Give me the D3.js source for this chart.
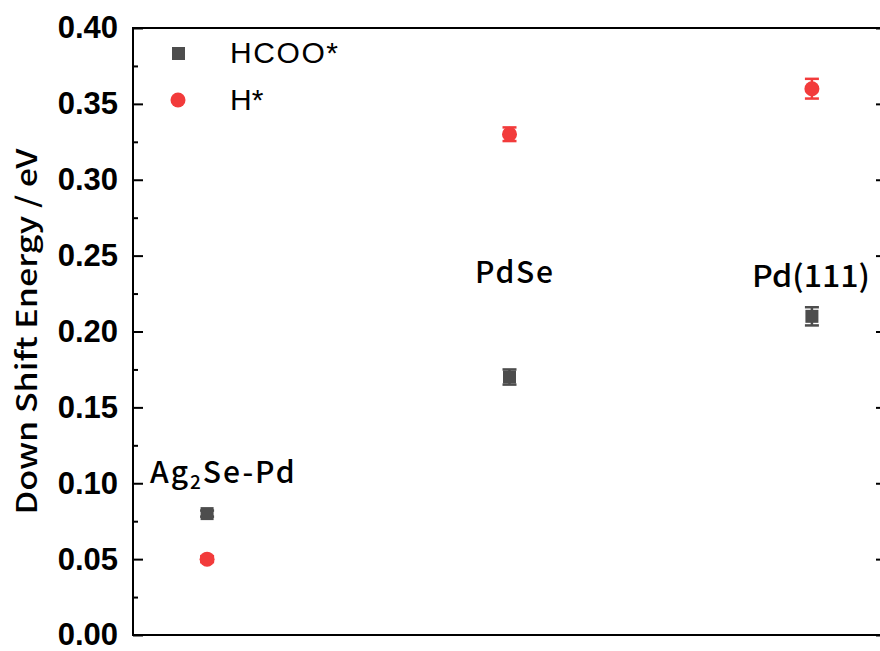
<!DOCTYPE html>
<html><head><meta charset="utf-8">
<script src="https://cdn.jsdelivr.net/npm/d3@7"></script>
<style>body{margin:0;background:#fff}</style>
</head><body>
<svg id="c" width="880" height="651"></svg>
<script>
const categories = ["Ag₂Se-Pd", "PdSe", "Pd(111)"];
const catX = [1, 2, 3];
const hcooValues = [0.08, 0.17, 0.21];
const hcooErrors = [0.002, 0.005, 0.006];
const hValues = [0.05, 0.33, 0.36];
const hErrors = [0.002, 0.0045, 0.0065];
const yTicks = [0, 0.05, 0.10, 0.15, 0.20, 0.25, 0.30, 0.35, 0.40];

const svg = d3.select("#c");
const L = 133, R = 886, T = 28, B = 635;
const x = d3.scaleLinear().domain([0.755, 3.245]).range([L, R]);
const y = d3.scaleLinear().domain([0, 0.40]).range([B, T]);
const cjk = "'Noto Sans CJK JP', 'Noto Sans', sans-serif";

svg.append("rect").attr("x", L).attr("y", T).attr("width", R - L).attr("height", B - T)
  .attr("fill", "none").attr("stroke", "#000").attr("stroke-width", 2);

const minor = d3.range(0.025, 0.40, 0.05);
const fmt = d3.format(".2f");
const gL = svg.append("g").attr("transform", `translate(${L},0)`)
  .call(d3.axisLeft(y).tickValues(yTicks).tickSize(-10).tickPadding(15).tickFormat(fmt));
gL.select(".domain").remove();
gL.selectAll(".tick line").attr("stroke-width", 2);
gL.selectAll(".tick text").attr("font-family", "'Liberation Sans', Arial, sans-serif")
  .attr("font-weight", "bold").attr("font-size", 31).attr("fill", "#000");
const gLm = svg.append("g").attr("transform", `translate(${L},0)`)
  .call(d3.axisLeft(y).tickValues(minor).tickSize(-5).tickFormat(""));
gLm.select(".domain").remove();
gLm.selectAll(".tick line").attr("stroke-width", 2);

const gR = svg.append("g").attr("transform", `translate(${R},0)`)
  .call(d3.axisRight(y).tickValues(yTicks).tickSize(-10).tickFormat(""));
gR.select(".domain").remove();
gR.selectAll(".tick line").attr("stroke-width", 2);
const gRm = svg.append("g").attr("transform", `translate(${R},0)`)
  .call(d3.axisRight(y).tickValues(minor).tickSize(-5).tickFormat(""));
gRm.select(".domain").remove();
gRm.selectAll(".tick line").attr("stroke-width", 2);

svg.append("text").attr("transform", `translate(37,${(T + B) / 2}) rotate(-90)`)
  .attr("text-anchor", "middle").attr("font-family", cjk)
  .attr("font-weight", 500).attr("font-size", 28)
  .attr("textLength", 366).attr("lengthAdjust", "spacingAndGlyphs")
  .text("Down Shift Energy / eV");

function errBars(vals, errs, color) {
  const g = svg.append("g").attr("stroke", color).attr("stroke-width", 2.5);
  vals.forEach((v, i) => {
    const cx = x(catX[i]);
    g.append("line").attr("x1", cx).attr("x2", cx).attr("y1", y(v - errs[i])).attr("y2", y(v + errs[i]));
    [v - errs[i], v + errs[i]].forEach(e => {
      g.append("line").attr("x1", cx - 7).attr("x2", cx + 7).attr("y1", y(e)).attr("y2", y(e));
    });
  });
}
const gray = "#4d4d4d", red = "#f23b3b";
errBars(hcooValues, hcooErrors, gray);
errBars(hValues, hErrors, red);
svg.append("g").selectAll("rect").data(hcooValues).join("rect")
  .attr("x", (d, i) => x(catX[i]) - 6.5).attr("y", d => y(d) - 6.5)
  .attr("width", 13).attr("height", 13).attr("fill", gray);
svg.append("g").selectAll("circle").data(hValues).join("circle")
  .attr("cx", (d, i) => x(catX[i])).attr("cy", d => y(d)).attr("r", 7.5).attr("fill", red);

const lab = svg.append("g").attr("font-family", cjk).attr("font-weight", 500)
  .attr("font-size", 30).attr("fill", "#000");
const t0 = lab.append("text").attr("x", 150).attr("y", 483).attr("letter-spacing", 2);
t0.append("tspan").text("Ag");
t0.append("tspan").attr("font-size", 19).attr("dy", 6).text("2");
t0.append("tspan").attr("dy", -6).text("Se-Pd");
lab.append("text").attr("x", 475).attr("y", 283)
  .attr("textLength", 78).attr("lengthAdjust", "spacing").text("PdSe");
lab.append("text").attr("x", 752).attr("y", 287)
  .attr("textLength", 118).attr("lengthAdjust", "spacingAndGlyphs").text("Pd(111)");

const lg = svg.append("g").attr("font-family", "'Liberation Sans', Arial, sans-serif").attr("font-size", 30);
lg.append("rect").attr("x", 172).attr("y", 47).attr("width", 13).attr("height", 13).attr("fill", gray);
lg.append("text").attr("x", 230).attr("y", 63).attr("textLength", 108).attr("lengthAdjust", "spacing").text("HCOO*");
lg.append("circle").attr("cx", 178).attr("cy", 100).attr("r", 7.5).attr("fill", red);
lg.append("text").attr("x", 230).attr("y", 110).text("H*");
</script>
</body></html>
